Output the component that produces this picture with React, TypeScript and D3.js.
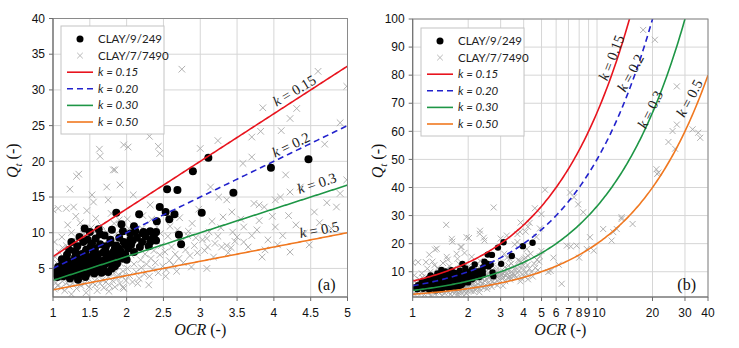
import React from 'react';
import * as d3 from 'd3';

// CLAY/9/249 (black dots) [OCR, Qt]
const clay9: [number, number][] = [
  [3.11,20.5],[2.90,18.6],[2.55,16.1],[2.69,16.0],[2.45,13.6],[2.53,12.9],[2.65,12.6],[2.58,11.9],[3.02,12.8],[3.45,15.6],[3.96,19.1],[4.47,20.3],[2.71,9.7],[2.74,8.4],[2.17,12.6],[1.93,11.2],[1.86,12.8],[2.41,11.6],[2.40,10.1],[2.32,10.2],[2.22,9.9],[2.35,9.1],
  [1.43,10.6],[1.50,10.1],[1.64,9.8],[1.36,9.4],[1.25,8.7],[1.41,8.7],[1.53,8.5],[1.78,9.0],[2.05,9.9],[2.12,10.2],[2.23,10.1],[2.21,8.7],[2.32,8.7],[2.40,8.9],[2.05,9.0],[1.98,8.3],[1.84,7.8],[1.71,7.6],[1.55,7.1],[1.41,6.9],[1.30,6.6],[1.19,6.9],[1.16,6.2],[1.07,5.2],[1.05,4.1],[1.23,3.6],[1.37,4.1],[1.46,4.3],[1.64,4.8],[1.75,4.5],[1.87,5.7],[2.00,6.2],
  [1.10,4.6],[1.12,5.5],[1.15,4.9],[1.18,5.8],[1.20,4.4],[1.22,5.1],[1.24,6.0],[1.26,4.7],[1.28,5.4],[1.30,7.4],[1.32,5.0],[1.33,6.1],[1.35,4.6],[1.36,5.6],[1.38,7.0],[1.40,5.2],[1.42,6.2],[1.44,4.9],[1.45,7.6],[1.47,5.7],[1.48,6.6],[1.50,5.0],[1.51,8.0],[1.52,6.0],[1.54,5.4],[1.55,6.7],[1.57,7.8],[1.58,5.1],[1.60,6.3],[1.61,7.0],[1.62,5.7],[1.64,8.4],[1.65,6.0],[1.66,4.4],[1.68,7.2],[1.70,5.5],[1.72,8.1],[1.73,6.5],[1.75,7.0],[1.77,5.8],[1.78,8.6],[1.80,6.2],[1.82,7.3],[1.84,5.3],[1.86,8.2],[1.88,6.8],[1.90,9.3],[1.92,7.4],[1.94,6.4],[1.96,8.7],[1.98,7.0],[2.02,7.8],[2.06,8.3],[2.10,7.3],[2.14,9.3],[2.18,8.0],[2.26,9.5],[2.30,8.1],[2.37,9.6],
  [1.12,6.3],[1.08,4.8],[1.03,4.5],[1.14,3.9],[1.27,4.0],[1.34,3.4],[1.44,3.8],[1.56,4.3],[1.68,4.9],[1.80,5.0],[1.58,9.2],[1.70,9.6],[1.47,9.0],[1.33,8.1],[1.22,7.6],[1.62,10.5],[1.80,10.4],[2.10,10.9],[1.95,10.2],
  [1.06,3.8],[1.17,4.2],[1.29,4.5],[1.39,5.9],[1.49,4.6],[1.59,5.6],[1.69,6.1],[1.79,6.7],[1.89,7.8],[2.08,8.9],[1.21,5.7],[1.43,7.2]
];

// CLAY/7/7490 (grey crosses) [OCR, Qt]
const clay7: [number, number][] = [
  [2.75,32.9],[4.60,32.6],[4.99,30.5],[3.85,27.5],[4.31,27.4],[4.22,26.0],[3.82,24.2],[3.70,23.4],[4.10,24.3],[4.90,25.4],[4.69,22.4],[3.00,21.8],[3.58,19.7],[4.16,18.1],[4.99,17.4],[3.14,16.4],[3.25,15.0],[3.36,14.6],[3.43,12.9],[3.73,14.1],[3.80,13.9],[3.87,13.6],[4.02,14.6],[4.09,15.0],[4.22,15.7],[4.36,16.4],[4.72,14.2],[4.90,15.5],[3.59,10.8],[3.77,10.4],[4.02,10.8],[3.20,8.5],[3.29,8.0],[3.36,8.2],[3.42,7.9],[3.47,8.8],[3.09,9.2],[3.59,8.7],[3.84,6.6],[3.88,7.6],[4.22,7.3],[4.41,9.9],[3.09,5.0],
  [1.64,20.7],[2.02,22.0],[1.84,18.8],[2.43,22.1],[2.31,23.5],[2.45,21.1],[1.32,17.9],[1.23,16.1],[1.07,13.4],[1.18,13.4],[1.28,13.6],[1.55,14.3],[1.75,14.6],[3.70,20.6],[1.53,15.3],[1.73,16.4],[1.91,16.7],[1.82,18.8],[1.00,13.2],[1.02,8.7],[1.52,26.7],[2.32,24.6],[3.24,22.9],[1.96,22.3],[1.63,21.7],[1.35,18.2],
  [17.8,96.1],[20.6,92.6],[27.1,76.0],[27.1,62.4],[25.7,60.1],[24.4,56.2],[26.5,53.8],[33.0,60.7],[35.4,59.5],[36.3,57.7],[21.0,46.5],[21.5,45.3],[21.2,44.8],[13.6,29.4],[15.6,27.0],[10.8,25.2],[12.25,24.1],[12.8,25.2],[12.0,21.1],[5.22,39.2],[8.42,31.2],[7.14,38.2],[7.5,36.5],[7.9,34.0],[13.6,28.8],[9.16,22.3],[6.85,19.3],[7.2,19.0],[7.75,19.3],[8.8,18.1],[9.6,17.5],[6.43,5.7],[5.44,9.9],[5.6,10.3],[5.8,15.0],[6.2,12.5],[8.0,15.0],
  [1.02,2.1],[1.04,3.0],[1.05,5.8],[1.06,2.6],[1.08,3.6],[1.09,7.2],[1.10,4.2],[1.11,2.3],[1.12,9.4],[1.13,3.2],[1.14,5.1],[1.15,6.4],[1.16,1.9],[1.17,4.5],[1.18,8.2],[1.19,3.0],[1.20,11.1],[1.21,5.4],[1.22,2.5],[1.23,6.9],[1.24,3.8],[1.25,10.0],[1.26,4.3],[1.27,2.9],[1.28,7.7],[1.29,5.6],[1.30,3.4],[1.31,12.3],[1.32,2.2],[1.33,8.8],[1.34,4.9],[1.35,6.3],[1.36,3.1],[1.37,11.4],[1.38,2.6],[1.39,5.3],[1.40,7.3],[1.41,4.0],[1.42,9.8],[1.43,2.9],[1.44,6.0],[1.45,3.5],[1.46,13.1],[1.47,4.7],[1.48,8.4],[1.49,2.4],[1.50,5.5],[1.51,3.9],[1.52,10.7],[1.53,6.8],[1.54,3.0],[1.55,4.5],[1.56,8.9],[1.57,2.7],[1.58,12.0],[1.59,5.9],[1.60,3.6],[1.61,7.6],[1.62,4.2],[1.63,9.6],[1.64,2.9],[1.65,5.1],[1.66,11.0],[1.67,3.4],[1.68,6.5],[1.69,2.3],[1.70,4.6],[1.71,8.0],[1.72,3.1],[1.73,10.1],[1.74,5.6],[1.75,3.8],[1.76,7.1],[1.77,2.6],[1.78,4.9],[1.79,12.7],[1.80,6.0],[1.81,3.3],[1.82,8.7],[1.83,4.3],[1.84,2.4],[1.85,5.3],[1.86,9.9],[1.87,3.6],[1.88,6.6],[1.89,4.1],[1.90,11.8],[1.91,2.9],[1.92,5.7],[1.93,7.3],[1.94,3.9],[1.95,4.6],[1.96,2.2],[1.97,6.1],[1.98,8.3],[1.99,3.3],
  [2.01,5.0],[2.03,10.6],[2.04,4.0],[2.06,6.9],[2.08,3.1],[2.09,15.3],[2.10,5.6],[2.12,7.8],[2.13,4.5],[2.15,9.4],[2.17,3.6],[2.19,6.2],[2.20,5.1],[2.22,12.4],[2.24,4.2],[2.25,7.0],[2.27,5.6],[2.29,8.6],[2.31,3.9],[2.33,6.4],[2.32,13.9],[2.35,4.9],[2.37,7.5],[2.39,5.8],[2.41,10.8],[2.43,4.4],[2.45,6.9],[2.47,8.2],[2.49,5.3],[2.52,7.3],[2.54,4.8],[2.56,9.5],[2.58,6.1],[2.61,8.0],[2.63,5.5],[2.66,7.0],[2.69,10.4],[2.71,6.4],[2.74,8.7],[2.77,5.8],[2.80,7.6],[2.83,9.6],[2.86,6.8],[2.89,11.3],[2.92,8.2],[2.96,7.2],[2.98,13.3],[3.03,9.0],[3.06,7.5],[3.12,10.1],[3.16,11.6],[3.18,6.6],[3.24,9.5],[3.31,12.2],[3.38,7.2],[3.50,9.4],[3.55,11.9],[3.65,8.0],[3.92,9.0],[3.98,12.3],[4.12,9.6],[4.30,11.1],[4.48,8.3],[4.55,12.9],[4.78,10.6],[4.85,13.6],
  [1.95,2.4],[2.15,2.9],[1.45,1.6],[1.25,1.4],[1.60,1.9],
  [1.03,6.6],[1.07,4.9],[1.13,7.9],[1.19,5.9],[1.26,8.4],[1.34,7.1],[1.41,10.6],[1.48,6.2],[1.57,10.1],[1.66,7.7],[1.74,9.0],[1.83,11.3],[1.92,9.4],[2.01,11.9],[2.11,8.4],[2.21,10.6],[2.34,11.9],[2.46,9.9],[2.59,10.9],[2.72,12.1],[2.84,10.2],[2.94,9.3],[3.10,8.0],[3.28,10.7],[3.44,10.1],[3.70,9.6],[3.80,11.7],[4.05,8.3],[4.20,12.4],[4.62,11.4],[2.53,3.9],[2.68,4.6],[2.88,5.2],[2.30,2.7],[1.76,1.8]
];

const kValues = [0.15, 0.2, 0.3, 0.5];
const kLegend = ['0.15', '0.20', '0.30', '0.50'];
const kColors = ['#e8141e', '#2222cc', '#1e9646', '#f07820'];
const kDash = [null, '6,4', null, null];

const xTicksA = [1, 1.5, 2, 2.5, 3, 3.5, 4, 4.5, 5];
const yTicksA = [5, 10, 15, 20, 25, 30, 35, 40];
const xTicksB = [1, 2, 3, 4, 5, 6, 7, 8, 9, 10, 20, 30, 40];
const yTicksB = [10, 20, 30, 40, 50, 60, 70, 80, 90, 100];

// label placements [OCR, Qt, angle]
const labelsA: [number, number, number][] = [[4.29, 29.7, -31], [4.24, 22.1, -26], [4.59, 16.7, -18], [4.62, 10.2, -11]];
const labelsText = ['0.15', '0.2', '0.3', '0.5'];
const labelsB: [number, number, number][] = [[12.2, 86, -69], [15.5, 80.5, -62], [19.8, 67.5, -64], [32.3, 71.5, -62]];

const SERIF = '"Liberation Serif", "Times New Roman", serif';
const SANS = '"Liberation Sans", Arial, sans-serif';
const LEG = 'Lato, "Open Sans", sans-serif';

type Box = { l: number; r: number; t: number; b: number };

function Panel({ id, box, x, y, xTicks, yTicks, log, labels, tag, rDot, xs, legend, yTitleOff }: any) {
  const curve = (k: number) => {
    const pts: [number, number][] = [];
    const dom = x.domain();
    const n = 200;
    for (let i = 0; i <= n; i++) {
      const t = i / n;
      const o = log ? dom[0] * Math.pow(dom[1] / dom[0], t) : dom[0] + (dom[1] - dom[0]) * t;
      pts.push([o, o / k]);
    }
    return d3.line<[number, number]>().x(d => x(d[0])).y(d => y(d[1]))(pts) as string;
  };
  const cx = (box.l + box.r) / 2;
  const cy = (box.t + box.b) / 2;
  const nudge = (v: number) => (log && v === 9 ? -1.5 : log && v === 10 ? 2 : 0);
  return (
    <g>
      <defs>
        <clipPath id={id}>
          <rect x={box.l} y={box.t} width={box.r - box.l} height={box.b - box.t} />
        </clipPath>
      </defs>
      {xTicks.map((v: number) => (
        <line key={'gx' + v} x1={x(v)} x2={x(v)} y1={box.t} y2={box.b} stroke="#d6d6d6" strokeWidth={1} />
      ))}
      {yTicks.map((v: number) => (
        <line key={'gy' + v} x1={box.l} x2={box.r} y1={y(v)} y2={y(v)} stroke="#d6d6d6" strokeWidth={1} />
      ))}
      <g clipPath={`url(#${id})`}>
        {clay7.map((d, i) => {
          const px = x(d[0]), py = y(d[1]);
          return (
            <path key={'c' + i} d={`M${px - xs},${py - xs}L${px + xs},${py + xs}M${px - xs},${py + xs}L${px + xs},${py - xs}`} stroke="#a8a8a8" strokeWidth={0.9} fill="none" />
          );
        })}
        {clay9.map((d, i) => (
          <circle key={'b' + i} cx={x(d[0])} cy={y(d[1])} r={rDot} fill="#000" />
        ))}
        {kValues.map((k, i) => (
          <path key={'k' + i} d={curve(k)} fill="none" stroke={kColors[i]} strokeWidth={1.6} strokeDasharray={kDash[i] || undefined} />
        ))}
      </g>
      {labels.map((l: [number, number, number], i: number) => (
        <text key={'lab' + i} transform={`translate(${x(l[0])},${y(l[1])}) rotate(${l[2]})`} textAnchor="middle" dominantBaseline="middle" fontFamily={SERIF} fontSize={14.5} fill="#222">
          <tspan fontStyle="italic">k</tspan> = {labelsText[i]}
        </text>
      ))}
      <text x={box.r - 12} y={box.b - 7} textAnchor="end" fontFamily={SERIF} fontSize={16} fill="#111">{tag}</text>
      <rect x={box.l} y={box.t} width={box.r - box.l} height={box.b - box.t} fill="none" stroke="#8a8a8a" strokeWidth={1} />
      <line x1={box.l} x2={box.l} y1={box.t} y2={box.b} stroke="#6e6e6e" />
      <line x1={box.l} x2={box.r} y1={box.b} y2={box.b} stroke="#6e6e6e" />
      {xTicks.map((v: number) => (
        <g key={'tx' + v}>
          <line x1={x(v)} x2={x(v)} y1={box.b} y2={box.b + 4} stroke="#6e6e6e" />
          <text x={x(v) + nudge(v)} y={box.b + 20} textAnchor="middle" fontFamily={SANS} fontSize={12} fill="#111">{v}</text>
        </g>
      ))}
      {yTicks.map((v: number) => (
        <g key={'ty' + v}>
          <line x1={box.l - 4} x2={box.l} y1={y(v)} y2={y(v)} stroke="#6e6e6e" />
          <text x={box.l - 8} y={y(v) + 4.2} textAnchor="end" fontFamily={SANS} fontSize={12} fill="#111">{v}</text>
        </g>
      ))}
      <text x={cx} y={box.b + 38} textAnchor="middle" fontFamily={SERIF} fontSize={16} fill="#111">
        <tspan fontStyle="italic">OCR</tspan> (-)
      </text>
      <text transform={`translate(${box.l - yTitleOff},${cy + 3}) rotate(-90)`} textAnchor="middle" fontFamily={SERIF} fontSize={16} fill="#111">
        <tspan fontStyle="italic">Q</tspan>
        <tspan fontStyle="italic" fontSize={11} dy={4}>t</tspan>
        <tspan dy={-4}> (-)</tspan>
      </text>
      <g>
        <rect x={legend.x} y={legend.y} width={103} height={108} fill="#fff" stroke="#c4c4c4" strokeWidth={1} />
        {[0, 1, 2, 3, 4, 5].map(i => {
          const ry = legend.y + 13 + i * 16.6;
          const mx = legend.x + 19;
          let sym: any;
          let label: any;
          if (i === 0) {
            sym = <circle cx={mx} cy={ry} r={3.5} fill="#000" />;
            label = 'CLAY/9/249';
          } else if (i === 1) {
            const s = 2.8;
            sym = <path d={`M${mx - s},${ry - s}L${mx + s},${ry + s}M${mx - s},${ry + s}L${mx + s},${ry - s}`} stroke="#b0b0b0" strokeWidth={0.9} />;
            label = 'CLAY/7/7490';
          } else {
            const j = i - 2;
            sym = <line x1={legend.x + 6} x2={legend.x + 32} y1={ry} y2={ry} stroke={kColors[j]} strokeWidth={1.6} strokeDasharray={kDash[j] || undefined} />;
            label = <><tspan fontStyle="italic">k</tspan><tspan fontStyle="italic"> = {kLegend[j]}</tspan></>;
          }
          return (
            <g key={'lg' + i}>
              {sym}
              <text x={legend.x + 37} y={ry + 4} fontFamily={LEG} fontSize={11.5} fill="#222">{label}</text>
            </g>
          );
        })}
      </g>
    </g>
  );
}

export default function App() {
  const boxA: Box = { l: 53, r: 347.5, t: 18.5, b: 297 };
  const boxB: Box = { l: 412.7, r: 708, t: 19, b: 297 };
  const xA = d3.scaleLinear().domain([1, 5]).range([boxA.l, boxA.r]);
  const yA = d3.scaleLinear().domain([1, 40]).range([boxA.b, boxA.t]);
  const xB = d3.scaleLog().domain([1, 40]).range([boxB.l, boxB.r]);
  const yB = d3.scaleLinear().domain([1, 100]).range([boxB.b, boxB.t]);
  return (
    <svg width={739} height={348} style={{ position: 'absolute', left: 0, top: 0, background: '#fff' }}>
      <rect width={739} height={348} fill="#fff" />
      <Panel id="clipA" box={boxA} x={xA} y={yA} xTicks={xTicksA} yTicks={yTicksA} log={false} labels={labelsA} tag="(a)" rDot={4} xs={3.3} legend={{ x: 61, y: 26 }} yTitleOff={35} />
      <Panel id="clipB" box={boxB} x={xB} y={yB} xTicks={xTicksB} yTicks={yTicksB} log={true} labels={labelsB} tag="(b)" rDot={3.2} xs={3} legend={{ x: 421, y: 28 }} yTitleOff={30} />
    </svg>
  );
}
